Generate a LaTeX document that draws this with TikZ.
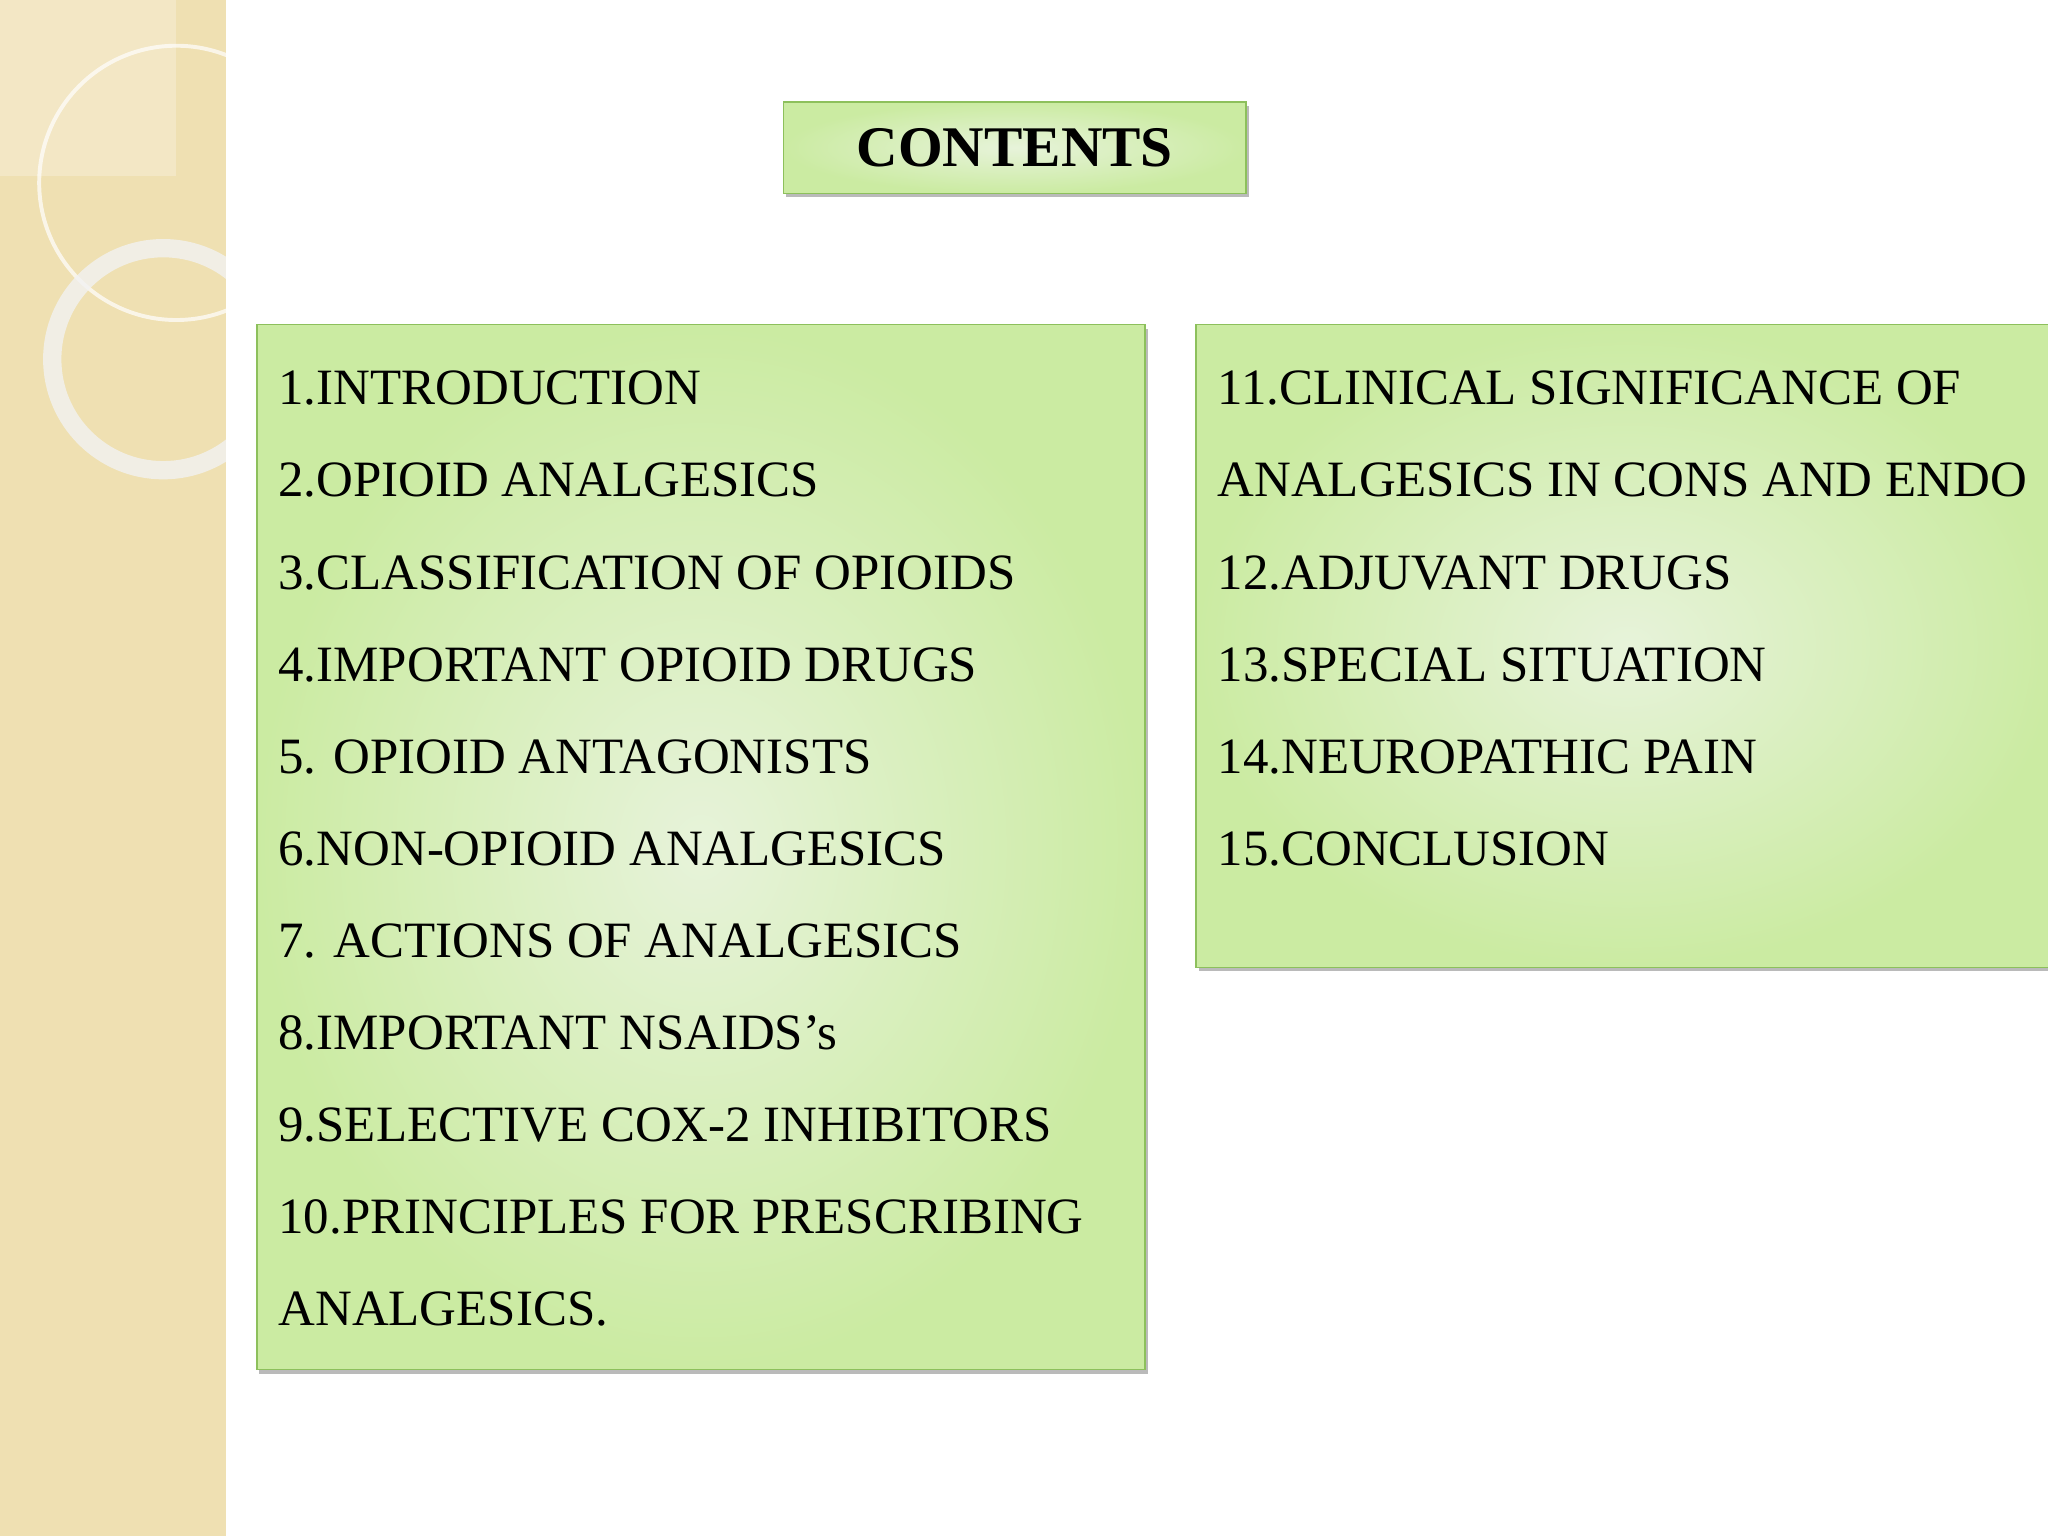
\documentclass[tikz,border=0pt]{standalone}
\usepackage{fontspec}
\setmainfont{Liberation Serif}
\usetikzlibrary{shadows}
\definecolor{beige}{HTML}{EFE0B2}
\definecolor{gborder}{HTML}{8DC05C}
\definecolor{gedge}{HTML}{CBEBA2}
\definecolor{gmid}{HTML}{E7F3DA}
\tikzset{
 gbox/.style={draw=gborder,line width=1.2pt,inner color=gmid,outer color=gedge,
   drop shadow={shadow xshift=2pt,shadow yshift=-3pt,fill=black!45,opacity=0.6}},
 item/.style={anchor=base west,font=\fontsize{39}{42}\selectfont,inner sep=0pt}
}
\begin{document}
\begin{tikzpicture}[x=1pt,y=1pt]
\useasboundingbox (0,0) rectangle (1568,-1176);
\fill[white] (0,0) rectangle (1568,-1176);
\fill[beige] (0,0) rectangle (173,-1176);
\fill[white,opacity=0.25] (0,0) rectangle (135,-135);
\begin{scope}
\clip (0,0) rectangle (173,-1176);
\draw[white,opacity=0.7,line width=3pt] (135,-140) circle (105);
\draw[white!90!gray,opacity=0.8,line width=14pt] (125,-275) circle (85);
\end{scope}
\node[gbox,minimum width=354,minimum height=70,font=\fontsize{44}{48}\selectfont\bfseries] (title) at (777,-113) {CONTENTS};
\node[gbox,minimum width=680,minimum height=800,anchor=north west] (left) at (196,-248) {};
\node[gbox,minimum width=660,minimum height=492,anchor=north west] (right) at (915,-248) {};
\foreach \t [count=\i from 0] in {1.INTRODUCTION,2.OPIOID ANALGESICS,3.CLASSIFICATION OF OPIOIDS,4.IMPORTANT OPIOID DRUGS,5. OPIOID ANTAGONISTS,6.NON-OPIOID ANALGESICS,7. ACTIONS OF ANALGESICS,8.IMPORTANT NSAIDS’s,9.SELECTIVE COX-2 INHIBITORS,10.PRINCIPLES FOR PRESCRIBING,ANALGESICS.}
  \node[item] (l\i) at (213,-310-70.5*\i) {\t};
\foreach \t [count=\i from 0] in {11.CLINICAL SIGNIFICANCE OF,ANALGESICS IN CONS AND ENDO,12.ADJUVANT DRUGS,13.SPECIAL SITUATION,14.NEUROPATHIC PAIN,15.CONCLUSION}
  \node[item] (r\i) at (932,-310-70.5*\i) {\t};
\end{tikzpicture}
\end{document}
